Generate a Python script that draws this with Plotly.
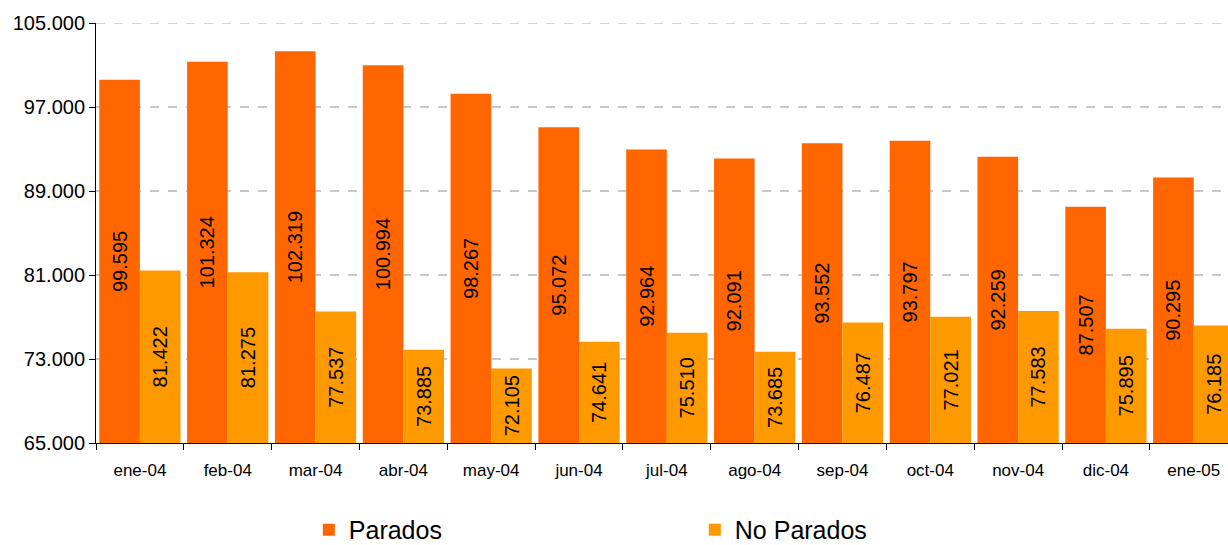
import plotly.graph_objects as go

categories = ["ene-04", "feb-04", "mar-04", "abr-04", "may-04", "jun-04", "jul-04",
              "ago-04", "sep-04", "oct-04", "nov-04", "dic-04", "ene-05"]
parados = [99595, 101324, 102319, 100994, 98267, 95072, 92964,
           92091, 93552, 93797, 92259, 87507, 90295]
no_parados = [81422, 81275, 77537, 73885, 72105, 74641, 75510,
              73685, 76487, 77021, 77583, 75895, 76185]
y_ticks = [65000, 73000, 81000, 89000, 97000, 105000]
y_min, y_max = 65000, 105000


def fmt(v):
    return f"{v:,}".replace(",", ".")


fig = go.Figure()
fig.add_trace(go.Bar(
    name="Parados", x=categories, y=[v - y_min for v in parados], base=y_min,
    text=[fmt(v) for v in parados],
    marker=dict(color="#FF6600", line=dict(width=0)),
))
fig.add_trace(go.Bar(
    name="No Parados", x=categories, y=[v - y_min for v in no_parados], base=y_min,
    text=[fmt(v) for v in no_parados],
    marker=dict(color="#FF9900", line=dict(width=0)),
))
fig.update_traces(
    textposition="inside", textangle=-90, insidetextanchor="middle",
    textfont=dict(family="Liberation Sans, Arial", size=20, color="black"),
)

fig.update_layout(
    width=1228, height=545,
    margin=dict(l=96, r=0, t=23, b=102, autoexpand=False),
    paper_bgcolor="white", plot_bgcolor="white",
    barmode="group", bargap=0.075, bargroupgap=0,
    separators=",.",
    font=dict(family="Liberation Sans, Arial", color="black"),
    showlegend=True,
    legend=dict(
        orientation="h", x=0.188, xanchor="left", y=-0.207, yanchor="middle",
        font=dict(size=25), entrywidth=341, entrywidthmode="pixels",
        bgcolor="rgba(0,0,0,0)", itemclick=False,
    ),
    uniformtext=dict(minsize=20, mode="show"),
)
# dashed gridline along the top edge (the 105.000 tick)
fig.add_shape(
    type="line", xref="paper", yref="y", x0=0, x1=1, y0=y_max, y1=y_max,
    line=dict(color="#C8C8C8", width=1.5, dash="dash"), layer="below",
)
fig.update_xaxes(
    type="category", range=[-0.5, 12.39], automargin=False,
    showline=True, linecolor="black", linewidth=1,
    ticks="outside", ticklen=6, tickcolor="black", tickson="boundaries",
    tickfont=dict(size=17), ticklabelstandoff=12,
    showgrid=False, zeroline=False,
)
fig.update_yaxes(
    range=[y_min, y_max + 10], tickvals=y_ticks, tickformat=",d", automargin=False,
    showline=True, linecolor="black", linewidth=1,
    ticks="outside", ticklen=6, tickcolor="black",
    tickfont=dict(size=20),
    showgrid=True, gridcolor="#C8C8C8", griddash="dash", gridwidth=1.5,
    zeroline=False,
)

fig.write_html(
    "out.html",
    config={"displayModeBar": False},
    post_script="document.body.style.margin='0';document.body.style.overflow='hidden';",
)
